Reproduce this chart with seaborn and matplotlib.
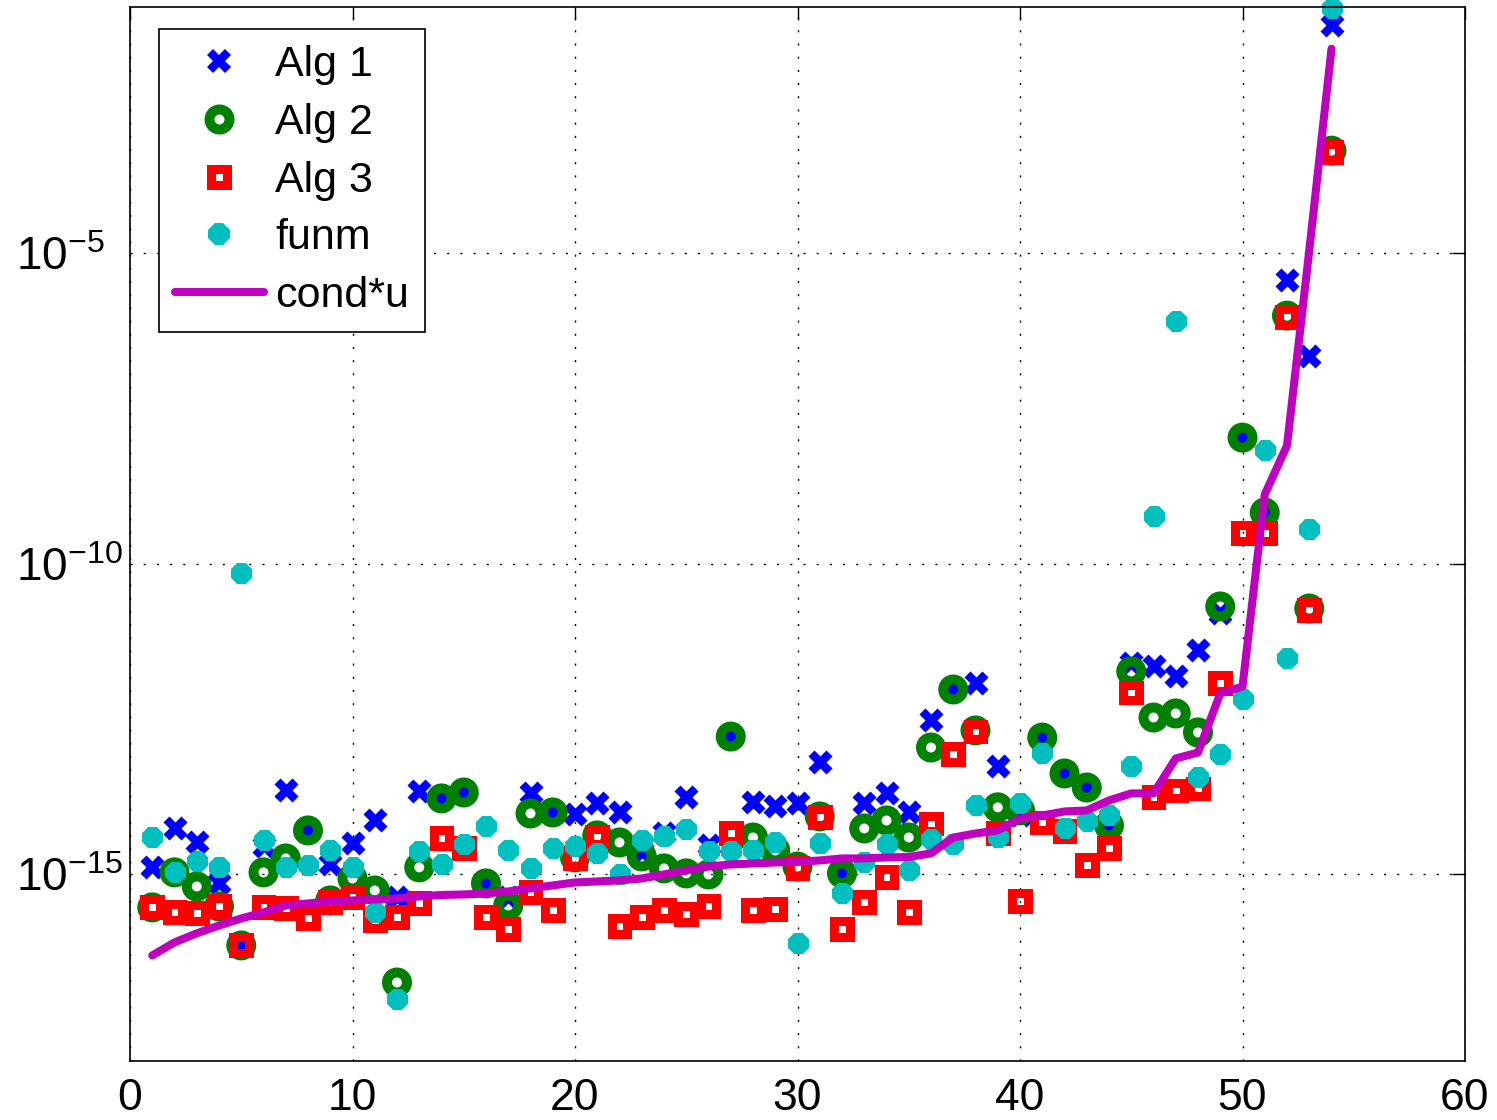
import numpy as np
import pandas as pd
import matplotlib
matplotlib.use("Agg")
import matplotlib.pyplot as plt
import seaborn as sns
from matplotlib.lines import Line2D
from matplotlib.ticker import NullLocator

# ---------------- data ----------------
n_idx = list(range(1, 55))

alg1 = [1.30e-15, 5.49e-15, 3.27e-15, 7.17e-16, 7.22e-17, 2.82e-15, 2.24e-14, 5.10e-15, 1.50e-15, 3.15e-15,
        7.38e-15, 4.27e-16, 2.16e-14, 1.67e-14, 2.08e-14, 7.17e-16, 4.27e-16, 2.01e-14, 9.93e-15, 9.22e-15,
        1.39e-14, 9.93e-15, 2.26e-15, 4.56e-15, 1.73e-14, 2.93e-15, 1.65e-13, 1.44e-14, 1.24e-14, 1.39e-14,
        6.32e-14, 1.04e-15, 1.39e-14, 2.01e-14, 9.93e-15, 3.10e-13, 9.43e-13, 1.22e-12, 5.45e-14, 8.88e-15,
        1.59e-13, 4.21e-14, 2.50e-14, 6.13e-15, 2.56e-12, 2.21e-12, 1.58e-12, 4.14e-12, 1.63e-11, 1.06e-8,
        6.60e-10, 3.68e-6, 2.21e-7, 4.63e-2]

alg2 = [2.95e-16, 1.08e-15, 6.41e-16, 3.06e-16, 7.22e-17, 1.08e-15, 1.81e-15, 5.10e-15, 3.82e-16, 8.62e-16,
        5.53e-16, 1.83e-17, 1.30e-15, 1.67e-14, 2.08e-14, 7.17e-16, 3.17e-16, 9.57e-15, 9.93e-15, 1.88e-15,
        4.24e-15, 3.27e-15, 1.95e-15, 1.25e-15, 1.04e-15, 1.00e-15, 1.65e-13, 3.93e-15, 2.43e-15, 1.34e-15,
        8.56e-15, 1.04e-15, 5.49e-15, 7.38e-15, 3.93e-15, 1.10e-13, 9.43e-13, 2.07e-13, 1.20e-14, 1.07e-14,
        1.59e-13, 4.21e-14, 2.50e-14, 6.13e-15, 1.84e-12, 3.34e-13, 3.88e-13, 1.92e-13, 2.04e-11, 1.06e-8,
        6.60e-10, 9.71e-7, 1.89e-11, 4.36e-4]

alg3 = [2.95e-16, 2.45e-16, 2.36e-16, 3.06e-16, 7.22e-17, 2.95e-16, 2.84e-16, 1.96e-16, 3.55e-16, 4.27e-16,
        1.82e-16, 2.04e-16, 3.42e-16, 3.79e-15, 2.62e-15, 2.04e-16, 1.35e-16, 5.14e-16, 2.64e-16, 1.81e-15,
        4.08e-15, 1.46e-16, 2.04e-16, 2.64e-16, 2.28e-16, 3.06e-16, 4.56e-15, 2.64e-16, 2.74e-16, 1.25e-15,
        8.25e-15, 1.31e-16, 3.55e-16, 8.95e-16, 2.45e-16, 6.60e-15, 8.50e-14, 1.99e-13, 4.56e-15, 3.68e-16,
        6.85e-15, 4.91e-15, 1.40e-15, 2.62e-15, 8.43e-13, 1.79e-14, 2.24e-14, 2.41e-14, 1.22e-12, 3.15e-10,
        3.15e-10, 9.36e-7, 1.76e-11, 4.21e-4]

funm = [3.93e-15, 1.08e-15, 1.62e-15, 1.34e-15, 7.17e-11, 3.52e-15, 1.34e-15, 1.40e-15, 2.43e-15, 1.30e-15,
        2.45e-16, 1.01e-17, 2.34e-15, 1.50e-15, 3.04e-15, 5.91e-15, 2.43e-15, 1.25e-15, 2.62e-15, 2.82e-15,
        2.18e-15, 1.00e-15, 3.52e-15, 4.08e-15, 5.29e-15, 2.34e-15, 2.34e-15, 2.43e-15, 3.27e-15, 7.78e-17,
        3.15e-15, 4.95e-16, 1.56e-15, 3.04e-15, 1.16e-15, 3.65e-15, 3.04e-15, 1.29e-14, 3.93e-15, 1.39e-14,
        8.82e-14, 5.49e-15, 7.11e-15, 8.88e-15, 5.65e-14, 5.91e-10, 8.07e-7, 3.63e-14, 8.50e-14, 6.75e-13,
        6.81e-9, 3.08e-12, 3.65e-10, 8.69e-2]

cond_u = [4.99e-17, 8.07e-17, 1.13e-16, 1.51e-16, 1.96e-16, 2.45e-16, 3.17e-16, 3.42e-16, 3.68e-16, 3.82e-16,
          3.96e-16, 4.11e-16, 4.43e-16, 4.68e-16, 4.77e-16, 4.95e-16, 5.33e-16, 5.96e-16, 6.66e-16, 7.44e-16,
          7.72e-16, 8.01e-16, 8.62e-16, 1.00e-15, 1.16e-15, 1.34e-15, 1.45e-15, 1.50e-15, 1.56e-15, 1.59e-15,
          1.68e-15, 1.81e-15, 1.81e-15, 1.88e-15, 1.91e-15, 2.18e-15, 3.93e-15, 4.56e-15, 5.10e-15, 7.95e-15,
          8.88e-15, 1.03e-14, 1.07e-14, 1.55e-14, 2.01e-14, 2.01e-14, 7.33e-14, 9.15e-14, 8.13e-13, 1.05e-12,
          1.29e-9, 7.89e-9, 1.08e-5, 1.90e-2]

legend_labels = ["Alg 1", "Alg 2", "Alg 3", "funm", "cond*u"]
x_ticks = [0, 10, 20, 30, 40, 50, 60]
y_ticks = [1e-15, 1e-10, 1e-5]
y_tick_labels = [r"$\mathdefault{10^{-15}}$", r"$\mathdefault{10^{-10}}$", r"$\mathdefault{10^{-5}}$"]

df = pd.DataFrame({"n": n_idx, "alg1": alg1, "alg2": alg2, "alg3": alg3,
                   "funm": funm, "cond_u": cond_u})

# ---------------- style ----------------
sns.set_theme(style="white")
plt.rcParams["font.family"] = ["Liberation Sans", "DejaVu Sans"]
plt.rcParams["mathtext.fontset"] = "custom"
plt.rcParams["mathtext.rm"] = "Liberation Sans"
plt.rcParams["mathtext.it"] = "Liberation Sans:italic"
plt.rcParams["mathtext.bf"] = "Liberation Sans:bold"

C_BLUE = "#0000ff"
C_GREEN = "#008000"
C_RED = "#ff0000"
C_CYAN = "#00bfbf"
C_MAG = "#bf00bf"

fig = plt.figure(figsize=(14.97, 11.2), dpi=100)
ax = fig.add_axes([130 / 1497, 59 / 1120, 1335 / 1497, 1054 / 1120])
ax.set_yscale("log")

sns.scatterplot(data=df, x="n", y="alg1", marker="X", s=300, color=C_BLUE,
                linewidth=0, ax=ax, legend=False)
sns.scatterplot(data=df, x="n", y="alg2", marker="o", s=207, facecolor="none",
                edgecolor=C_GREEN, linewidth=7.2, ax=ax, legend=False)
sns.scatterplot(data=df, x="n", y="alg3", marker="s", s=132, facecolor="none",
                edgecolor=C_RED, linewidth=6.5, joinstyle="miter", ax=ax, legend=False)
sns.scatterplot(data=df, x="n", y="funm", marker="8", s=268, color=C_CYAN,
                linewidth=0, ax=ax, legend=False, clip_on=False)
sns.lineplot(data=df, x="n", y="cond_u", color=C_MAG, linewidth=5.8,
             errorbar=None, ax=ax, legend=False)

ax.set_xlim(0, 60)
ax.set_ylim(1e-18, 10 ** -1.05)
ax.set_xlabel("")
ax.set_ylabel("")

ax.set_xticks(x_ticks)
ax.set_yticks(y_ticks, y_tick_labels, ha="left")
ax.yaxis.set_minor_locator(NullLocator())
ax.xaxis.set_minor_locator(NullLocator())

ax.tick_params(which="major", direction="in", length=9.5, width=1.0, colors="black",
               top=True, right=True, labelsize=33)
ax.tick_params(axis="y", pad=82)
ax.tick_params(axis="x", pad=12.5, labelsize=32)

ax.grid(True, which="major", color="black", linestyle=(0, (1.5, 8)), linewidth=1.0)
ax.set_axisbelow(True)
for sp in ax.spines.values():
    sp.set_color("black")
    sp.set_linewidth(1.2)
    sp.set_visible(True)

handles = [
    Line2D([], [], marker="X", linestyle="none", markersize=17.3,
           markerfacecolor=C_BLUE, markeredgewidth=0, color=C_BLUE),
    Line2D([], [], marker="o", linestyle="none", markersize=14.4,
           markerfacecolor="none", markeredgecolor=C_GREEN, markeredgewidth=7.2),
    Line2D([], [], marker="s", linestyle="none", markersize=11.5,
           markerfacecolor="none", markeredgecolor=C_RED, markeredgewidth=6.5),
    Line2D([], [], marker="8", linestyle="none", markersize=16.4,
           markerfacecolor=C_CYAN, markeredgewidth=0),
    Line2D([], [], color=C_MAG, linewidth=5.8),
]
leg = ax.legend(handles, legend_labels, loc="upper left",
                bbox_to_anchor=((159 - 130) / 1335, (1061 - 29) / 1054),
                borderaxespad=0, fontsize=31, frameon=True, fancybox=False,
                edgecolor="black", framealpha=1, handlelength=2.05,
                handletextpad=0.27, borderpad=0.38, labelspacing=0.41,
                numpoints=1)
leg.get_frame().set_linewidth(1.2)
for t in leg.get_texts():
    t.set_color("black")

fig.savefig("out.png", dpi=100, facecolor="white")
